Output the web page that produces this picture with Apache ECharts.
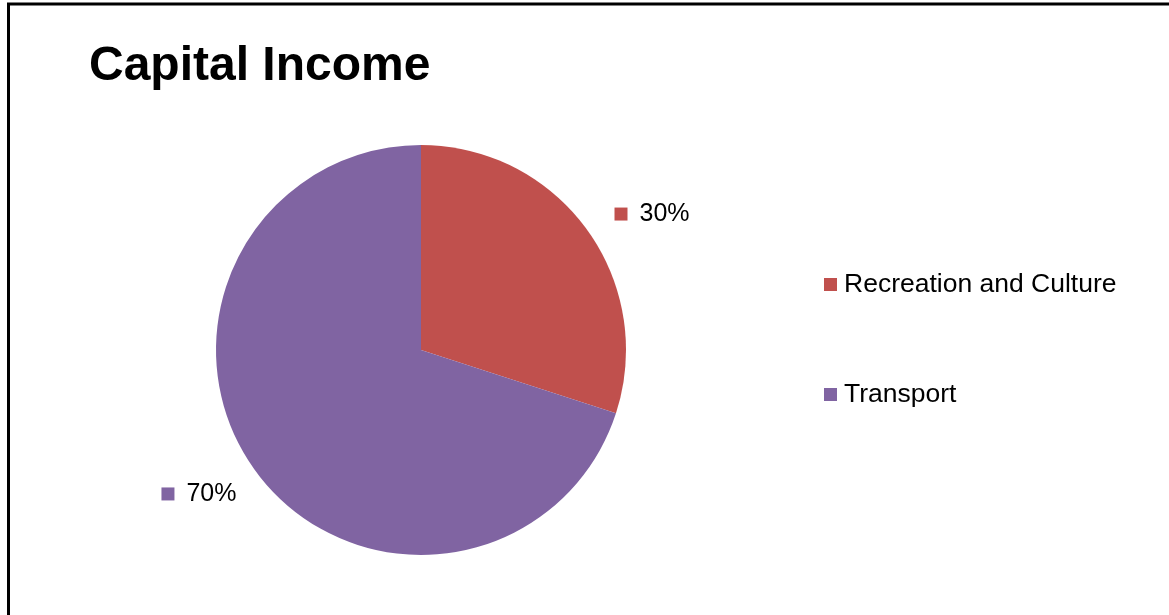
<!DOCTYPE html>
<html>
<head>
<meta charset="utf-8">
<title>Capital Income</title>
<script src="https://cdn.jsdelivr.net/npm/echarts@6/dist/echarts.min.js"></script>
<style>
  html, body { margin: 0; padding: 0; background: #ffffff; }
  #chart { width: 1169px; height: 615px; }
</style>
</head>
<body>
<div id="chart"></div>
<script>
// Capital income split by category (percent of total)
const categories = ['Recreation and Culture', 'Transport'];
const shares = [30, 70];
const colors = ['#C0504D', '#8064A2'];

const FONT = '"Liberation Sans", Arial, sans-serif';

const chart = echarts.init(document.getElementById('chart'), null, { renderer: 'canvas' });

const pieData = categories.map((name, i) => ({
  name: name,
  value: shares[i],
  itemStyle: { color: colors[i] },
  label: {
    rich: {
      m: { width: 13, height: 13, backgroundColor: colors[i] },
      t: { fontFamily: FONT, fontSize: 25, color: '#000000', padding: [0, 0, 0, 12] }
    }
  }
}));

// small nudges for the outside percentage labels (left-side label sits a bit lower/closer)
const labelNudge = [[0, 1], [9, 7]];

chart.setOption({
  backgroundColor: '#ffffff',
  animation: false,
  title: {
    text: 'Capital Income',
    left: 89,
    top: 43,
    padding: 0,
    textStyle: { fontFamily: FONT, fontSize: 48, fontWeight: 'bold', color: '#000000' }
  },
  legend: {
    orient: 'vertical',
    left: 824,
    top: 271,
    itemGap: 83,
    itemWidth: 13,
    itemHeight: 13,
    icon: 'rect',
    padding: 0,
    textStyle: { fontFamily: FONT, fontSize: 26.5, color: '#000000', padding: [0, 0, 0, 2] },
    data: categories
  },
  graphic: [{
    type: 'rect',
    shape: { x: 8.5, y: 4, width: 1300, height: 800 },
    style: { fill: 'none', stroke: '#000000', lineWidth: 3 },
    silent: true
  }],
  series: [{
    type: 'pie',
    center: [421, 350],
    radius: [0, 205],
    startAngle: 90,
    clockwise: true,
    avoidLabelOverlap: false,
    itemStyle: { borderWidth: 0 },
    label: {
      show: true,
      position: 'outside',
      formatter: p => '{m|}{t|' + Math.round(p.percent) + '%}'
    },
    labelLine: { show: false, length: 28, length2: 0 },
    labelLayout: p => ({ dx: labelNudge[p.dataIndex][0], dy: labelNudge[p.dataIndex][1] }),
    emphasis: { disabled: true },
    data: pieData
  }]
});
</script>
</body>
</html>
